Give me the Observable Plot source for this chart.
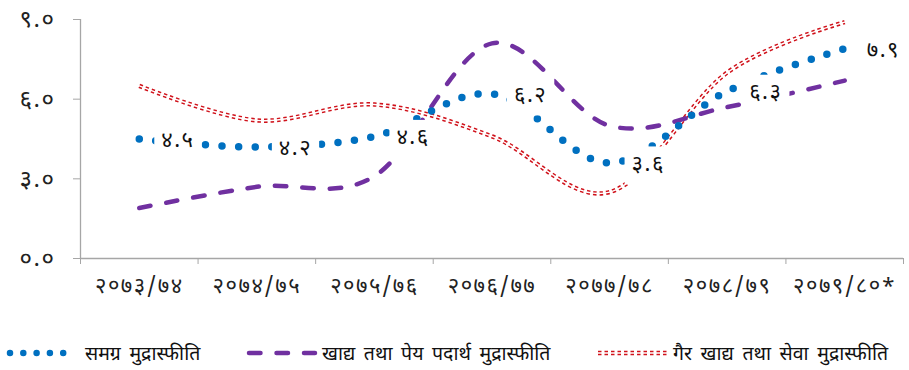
<!DOCTYPE html>
<html><head><meta charset="utf-8">
<script src="https://cdn.jsdelivr.net/npm/d3@7"></script>
<script src="https://cdn.jsdelivr.net/npm/@observablehq/plot@0.6"></script>
<style>
body{margin:0;background:#fff;font-family:"Noto Sans Devanagari","Lohit Devanagari","Noto Sans",sans-serif;}
#chart svg, #legend svg{display:block;}
</style></head><body><div id="chart"></div><div id="legend"></div>
<script>
// ---- data ----
const categories = ["२०७३/७४","२०७४/७५","२०७५/७६","२०७६/७७","२०७७/७८","२०७८/७९","२०७९/८०*"];
const overall = [4.5, 4.2, 4.6, 6.2, 3.6, 6.3, 7.9];
const food = [1.9, 2.7, 3.1, 8.1, 5.0, 5.7, 6.7];
const nonFood = [6.5, 5.2, 5.8, 4.6, 2.5, 7.0, 8.9];
const overallLabels = ["४.५","४.२","४.६","६.२","३.६","६.३","७.९"];
const yTicks = [0, 3, 6, 9];
const yTickLabels = ["०.०","३.०","६.०","९.०"];
const seriesNames = ["समग्र मुद्रास्फीति","खाद्य तथा पेय पदार्थ मुद्रास्फीति","गैर खाद्य तथा सेवा मुद्रास्फीति"];

// ---- styles ----
const FONT = '"Noto Sans Devanagari","Lohit Devanagari","Noto Sans",sans-serif';
const axisColor = "#a6a6a6";
const blue = "#0070c0", purple = "#7030a0", red = "#d0121b";

const idx = categories.map((_, i) => i);
const bounds = d3.range(categories.length + 1).map(i => i - 0.5);

const chart = Plot.plot({
  width: 909, height: 305,
  marginLeft: 80, marginRight: 6, marginTop: 19, marginBottom: 47,
  x: {type: "linear", domain: [-0.5, categories.length - 0.5]},
  y: {domain: [0, 9]},
  style: {fontFamily: FONT, fontSize: "17px", color: "#222", background: "#fff"},
  marks: [
    Plot.ruleY([0], {stroke: axisColor, strokeWidth: 1.3}),
    Plot.ruleX([-0.5], {stroke: axisColor, strokeWidth: 1.3}),
    Plot.axisY({ticks: yTicks, tickFormat: v => yTickLabels[yTicks.indexOf(v)], tickSize: 7, tickPadding: 18, stroke: axisColor, fontSize: 24, label: null}),
    Plot.axisX({ticks: bounds, tickFormat: () => "", tickSize: 6, stroke: axisColor, label: null}),
    Plot.axisX({ticks: idx, tickFormat: i => categories[i], tickSize: 0, tickPadding: 19, fontSize: 22, label: null}),
    Plot.line(idx, {x: i => i, y: i => nonFood[i], curve: "cardinal", stroke: red, strokeWidth: 4.4, strokeDasharray: "3.5 3", strokeLinecap: "butt"}),
    Plot.line(idx, {x: i => i, y: i => nonFood[i], curve: "cardinal", stroke: "#fff", strokeWidth: 1.4}),
    Plot.line(idx, {x: i => i, y: i => food[i], curve: "cardinal", stroke: purple, strokeWidth: 4.5, strokeDasharray: "11.5 16", strokeLinecap: "round"}),
    Plot.line(idx, {x: i => i, y: i => overall[i], curve: "cardinal", stroke: blue, strokeWidth: 7.5, strokeDasharray: "0 16.6", strokeLinecap: "round"}),
    Plot.text(idx, {x: i => i, y: i => overall[i], text: i => overallLabels[i], textAnchor: "start", dx: 22, dy: 1, fontSize: 22, fill: "#111"})
  ]
});
document.getElementById("chart").appendChild(chart);

const svgSel = d3.select(chart);
svgSel.selectAll('[aria-label="x-axis tick label"] text').style("letter-spacing", "1.5px");
svgSel.selectAll('[aria-label="y-axis tick label"] text').style("letter-spacing", "1.5px");

// white label boxes behind the data labels (as in the source chart)
const labelSet = new Set(overallLabels);
svgSel.selectAll("text").filter(function() { return labelSet.has(this.textContent); }).each(function() {
  this.style.letterSpacing = "1.5px";
  const b = this.getBBox();
  const cy = b.y + b.height / 2;
  const r = document.createElementNS("http://www.w3.org/2000/svg", "rect");
  r.setAttribute("x", b.x - 7); r.setAttribute("y", cy - 19);
  r.setAttribute("width", b.width + 14); r.setAttribute("height", 38);
  r.setAttribute("fill", "#fff"); r.setAttribute("stroke", "none");
  const t = this.getAttribute("transform");
  if (t) r.setAttribute("transform", t);
  this.parentNode.insertBefore(r, this);
});

// ---- legend ----
const lg = d3.select("#legend").append("svg").attr("width", 909).attr("height", 65);
const ly = 48;
lg.append("line").attr("x1", 10).attr("x2", 64).attr("y1", ly).attr("y2", ly)
  .attr("stroke", blue).attr("stroke-width", 6.5).attr("stroke-linecap", "round").attr("stroke-dasharray", "0 13.3");
lg.append("line").attr("x1", 249).attr("x2", 315).attr("y1", ly).attr("y2", ly)
  .attr("stroke", purple).attr("stroke-width", 4.5).attr("stroke-linecap", "round").attr("stroke-dasharray", "11.5 16");
lg.append("line").attr("x1", 598).attr("x2", 668).attr("y1", ly).attr("y2", ly)
  .attr("stroke", red).attr("stroke-width", 4.4).attr("stroke-dasharray", "3.5 3");
lg.append("line").attr("x1", 598).attr("x2", 668).attr("y1", ly).attr("y2", ly)
  .attr("stroke", "#fff").attr("stroke-width", 1.4);
const lx = [85, 322, 673];
seriesNames.forEach((s, i) => {
  lg.append("text").attr("x", lx[i]).attr("y", ly).attr("dy", "0.35em")
    .attr("font-family", FONT).attr("font-size", 19.5).attr("word-spacing", "3.5px").attr("fill", "#111").text(s);
});
</script>
</body></html>
